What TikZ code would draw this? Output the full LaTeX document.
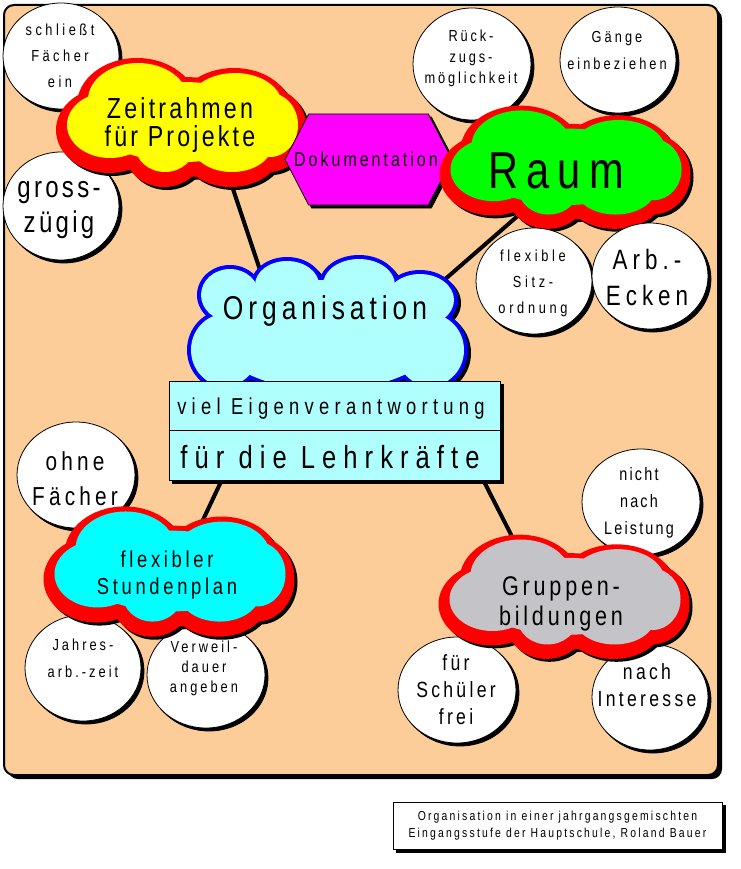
\documentclass[tikz,border=0pt]{standalone}
\usepackage{fontspec}
\setmainfont{Liberation Sans}[FakeStretch=0.8]
\usetikzlibrary{calc,shapes.symbols,shapes.geometric}
\definecolor{peach}{RGB}{252,204,153}
\definecolor{paleaqua}{RGB}{176,255,255}
\definecolor{cloudgray}{RGB}{196,196,200}
\definecolor{aqua}{RGB}{0,255,255}
\definecolor{fuchsia}{RGB}{255,0,255}
\definecolor{lemon}{RGB}{255,255,0}
\definecolor{lime}{RGB}{0,255,0}
\newcommand\mf[3]{\fontsize{#1}{#2}\selectfont\addfontfeature{LetterSpace=#3}}
% centre, y-scale, lobes, border colour, fill colour, border width, border offset x, y
\newcommand\puffcloud[8]{%
  \begin{scope}[shift={(#1)}, yscale=#2]
    \foreach \dx/\dy/\rx/\ry in #3 {\fill[black] (\dx+#7+3,\dy+#8+3) ellipse [x radius=\rx+#6, y radius=\ry+#6];}
    \foreach \dx/\dy/\rx/\ry in #3 {\fill[#4] (\dx+#7,\dy+#8) ellipse [x radius=\rx+#6, y radius=\ry+#6];}
    \foreach \dx/\dy/\rx/\ry in #3 {\fill[#5] (\dx,\dy) ellipse [x radius=\rx, y radius=\ry];}
  \end{scope}}
\pgfdeclarelayer{background}
\pgfsetlayers{background,main}
\tikzset{
  shadowed/.style={preaction={fill=black, draw=black, line width=#1, transform canvas={shift={(3pt,-3pt)}}}},
  bubble/.style={ellipse, draw=black, line width=0.8pt, fill=white, inner sep=0pt, shadowed=0.8pt},
  txt/.style={align=center, inner sep=0pt},
  link/.style={line width=4pt}
}

\begin{document}
\begin{tikzpicture}[x=1pt,y=-1pt]
				%%%%% PANEL %%%%%
				\useasboundingbox (0,0) rectangle (740,869);
				\def\rad{10pt}
				\def\lobes{-45/-17/50/37, 52/-12/47/32, 87/8/28/32, 49/28/40/27, -18/28/30/27, -73/8/43/33, 0/5/90/40}
				\def\orgalobes{-97/-35/29/26, -40/-45/32/24, 32/-45/36/26, 93/-30/34/26, 103/20/34/36, -102/20/34/36, 0/5/112/55}
				\begin{pgfonlayer}{background}
				\fill[black, rounded corners=\rad] (8,9) rectangle (722,779);
				\draw[fill=peach, line width=2pt, rounded corners=\rad] (4,5) rectangle (718,775);
				\end{pgfonlayer}

				%%%%% BUBBLES BEHIND %%%%%
				\node[bubble, minimum width=116pt, minimum height=106pt] (schliesst) at (61,56) {};
				\node[bubble, minimum width=116pt, minimum height=108pt] (gross) at (61,206) {};
				\node[bubble, minimum width=118pt, minimum height=112pt] (rueckzug) at (472,64) {};
				\node[bubble, minimum width=116pt, minimum height=106pt] (gaenge) at (618,60) {};
				\node[bubble, minimum width=118pt, minimum height=106pt] (ohne) at (76,475) {};
				\node[bubble, minimum width=116pt, minimum height=106pt] (jahres) at (83,668) {};
				\node[bubble, minimum width=118pt, minimum height=106pt] (verweil) at (206,675) {};
				\node[bubble, minimum width=118pt, minimum height=106pt] (leistung) at (641,502) {};
				\node[bubble, minimum width=118pt, minimum height=106pt] (schueler) at (457,690) {};
				\node[bubble, minimum width=116pt, minimum height=106pt] (interesse) at (650,697) {};

				%%%%% CLOUDS %%%%%
				\puffcloud{183,117}{1}{\lobes}{red}{lemon}{10}{-1}{5}
				\node[signal, signal to=west and east, signal pointer angle=125, draw, fill=fuchsia, line width=0.8pt, minimum width=167pt, minimum height=91pt, inner sep=0pt, shadowed=0.8pt] (doku) at (368.5,159.5) {};
				\puffcloud{566.5,162}{0.955}{\lobes}{red}{lime}{10}{-1}{5}
				\puffcloud{170.5,566}{1.01}{\lobes}{red}{aqua}{10}{-1}{5}
				\puffcloud{565.5,591.5}{0.963}{\lobes}{red}{cloudgray}{10}{-1}{5}
				\puffcloud{327,330}{1}{\orgalobes}{blue}{paleaqua}{4}{0}{0}

				%%%%% BUBBLES IN FRONT %%%%%
				\node[bubble, minimum width=116pt, minimum height=106pt] (sitz) at (534,281) {};
				\node[bubble, minimum width=116pt, minimum height=106pt] (ecken) at (650,276) {};

				\node[draw, fill=paleaqua, line width=0.8pt, minimum width=331pt, minimum height=99pt, inner sep=0pt, shadowed=0.8pt] (lehr) at (334.5,430.5) {};
				\draw[line width=0.8pt] (lehr.west) -- (lehr.east);

				%%%%% TEXTS %%%%%
				\node[txt, font=\mf{16}{26}{22}] (schliesst-t) at (60,56) {schließt\\Fächer\\ein};
				\node[txt, font=\mf{30}{35}{11}] (gross-t) at (59,210) {gross-\\zügig};
				\node[txt, font=\mf{29}{28}{11}] (zeit) at (180,125) {Zeitrahmen\\für Projekte};
				\node[txt, font=\mf{20}{24}{15}] (doku-t) at (366,159) {Dokumentation};
				\node[txt, font=\mf{52}{60}{16}] (raum) at (556,171) {Raum};
				\node[txt, font=\mf{16}{21}{18}] (rueckzug-t) at (471,58) {Rück-\\zugs-\\möglichkeit};
				\node[txt, font=\mf{16}{27}{19}] (gaenge-t) at (617,50) {Gänge\\einbeziehen};
				\node[txt, font=\mf{16}{26}{23}] (sitz-t) at (533,283) {flexible\\Sitz-\\ordnung};
				\node[txt, font=\mf{28}{36}{18}] (ecken-t) at (647,277) {Arb.-\\Ecken};
				\node[txt, font=\mf{33}{40}{15}] (orga) at (325,311) {Organisation};
				\node[txt, font=\mf{23}{28}{23}] (lehr-a) at (331,409) {viel Eigenverantwortung};
				\node[txt, font=\mf{32}{38}{22}] (lehr-b) at (330,457) {für die Lehrkräfte};
				\node[txt, font=\mf{26}{35}{16}] (ohne-t) at (75,479) {ohne\\Fächer};
				\node[txt, font=\mf{23}{27}{16}] (stunden) at (167,575) {flexibler\\Stundenplan};
				\node[txt, font=\mf{16}{27}{19}] (jahres-t) at (83,658) {Jahres-\\arb.-zeit};
				\node[txt, font=\mf{16}{20}{19}] (verweil-t) at (204,668) {Verweil-\\dauer\\angeben};
				\node[txt, font=\mf{27}{30}{14}] (gruppen) at (561,604) {Gruppen-\\bildungen};
				\node[txt, font=\mf{18}{27}{12}] (leistung-t) at (639,503) {nicht\\nach\\Leistung};
				\node[txt, font=\mf{22}{27}{15}] (schueler-t) at (456,690) {für\\Schüler\\frei};
				\node[txt, font=\mf{22}{27}{15}] (interesse-t) at (647,685) {nach\\Interesse};

				%%%%% LINKS %%%%%
				\begin{pgfonlayer}{background}
				\draw[link] ($(zeit)+(40,25)$) -- ($(orga)+(-55,-11)$);
				\draw[link] ($(raum)+(-20,29)$) -- ($(orga)+(102,-16)$);
				\draw[link] ($(lehr.south west)+(53,0)$) -- ($(stunden)+(26.5,-35)$);
				\draw[link] ($(lehr.south east)+(-17,0)$) -- ($(gruppen)+(-34.5,-39)$);
				\end{pgfonlayer}

				%%%%% CAPTION %%%%%
				\node[draw, fill=white, line width=0.8pt, minimum width=329pt, minimum height=47pt, shadowed=0.8pt, align=center, font=\mf{13}{17}{17}] (caption) at (557.5,825.5) {Organisation in einer jahrgangsgemischten\\Eingangsstufe der Hauptschule, Roland Bauer};
\end{tikzpicture}
\end{document}
